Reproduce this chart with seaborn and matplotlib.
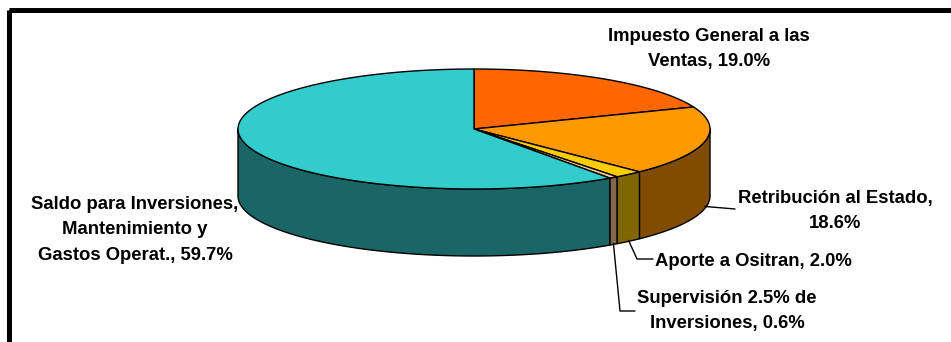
import numpy as np
import matplotlib
matplotlib.use("Agg")
import matplotlib.pyplot as plt
from matplotlib.patches import Polygon, Rectangle
import seaborn as sns

# ---- data ----
names = ["Impuesto General a las\nVentas",
         "Retribución al Estado",
         "Aporte a Ositran",
         "Supervisión 2.5% de\nInversiones",
         "Saldo para Inversiones,\nMantenimiento y\nGastos Operat."]
values = [19.0, 18.6, 2.0, 0.6, 59.7]
seps = [", ", ",\n", ", ", ", ", ", "]
top_colors = ["#FF6600", "#FF9900", "#FFCC00", "#FFCC99", "#33CCCC"]
side_colors = ["#803300", "#804C00", "#806600", "#80664C", "#1A6666"]

sns.set_theme(style="white")
plt.rcParams['font.family'] = ['Liberation Sans', 'DejaVu Sans']

W, H = 951, 342
fig = plt.figure(figsize=(W / 100, H / 100), dpi=100)
fig.patch.set_facecolor("white")
ax = fig.add_axes([0, 0, 1, 1])
ax.set_xlim(0, W)
ax.set_ylim(H, 0)
ax.axis("off")

# frame (cropped chart-area border)
ax.add_patch(Rectangle((8.5, 9.5), 960, 360, fill=False, ec="black", lw=3.6,
                       clip_on=True, zorder=1))

# pie geometry (layout)
cx, cy, a, b, depth = 474, 129, 236, 60, 67

def ell(t_deg):
    t = np.radians(t_deg)
    return cx + a * np.cos(t), cy - b * np.sin(t)

total = sum(values)
spans = [v / total * 360 for v in values]
starts = 90 - np.concatenate([[0], np.cumsum(spans)[:-1]])
ends = starts - np.array(spans)

# side walls (front half: t in [-180, 0])
for s, e, col in zip(starts, ends, side_colors):
    hi, lo = min(s, 0), max(e, -180)
    if hi <= lo:
        continue
    ts = np.linspace(hi, lo, 80)
    xs, ys = ell(ts)
    pts = np.column_stack([np.r_[xs, xs[::-1]], np.r_[ys, (ys + depth)[::-1]]])
    ax.add_patch(Polygon(pts, closed=True, fc=col, ec="black", lw=1.0,
                         joinstyle="round", zorder=3))

# top faces
for s, e, col in zip(starts, ends, top_colors):
    ts = np.linspace(s, e, max(int(abs(s - e)) * 2, 8))
    xs, ys = ell(ts)
    pts = np.column_stack([np.r_[cx, xs], np.r_[cy, ys]])
    ax.add_patch(Polygon(pts, closed=True, fc=col, ec="black", lw=1.0,
                         joinstyle="round", zorder=4))

# labels
texts = [f"{n}{sp}{v:.1f}%" for n, sp, v in zip(names, seps, values)]
mids = (starts + ends) / 2
fs = 13.3
ls = 1.62
kw = dict(fontsize=fs, fontweight="bold", color="black", linespacing=ls,
          zorder=6)

# Impuesto (no leader)
ax.text(709, 49, texts[0], ha="center", va="center", multialignment="center", **kw)

# Retribución
mx, my = ell(mids[1]); my += depth - 2
ax.plot([mx, 735], [my, 209], color="black", lw=1.0, zorder=5)
ax.text(835, 211, texts[1], ha="center", va="center", multialignment="center", **kw)

# Aporte
mx, my = ell(mids[2]); my += depth - 1
ax.plot([mx, 637, 653], [my, 259, 259], color="black", lw=1.0, zorder=5)
ax.text(655, 262, texts[2], ha="left", va="center", **kw)

# Supervisión
mx, my = ell(mids[3]); my += depth - 1
ax.plot([mx, 620, 635], [my, 311, 311], color="black", lw=1.0, zorder=5)
ax.text(727, 311, texts[3], ha="center", va="center", multialignment="center", **kw)

# Saldo
ax.text(135, 230, texts[4], ha="center", va="center", multialignment="center", **kw)

fig.savefig("out.png", dpi=100, facecolor="white")
